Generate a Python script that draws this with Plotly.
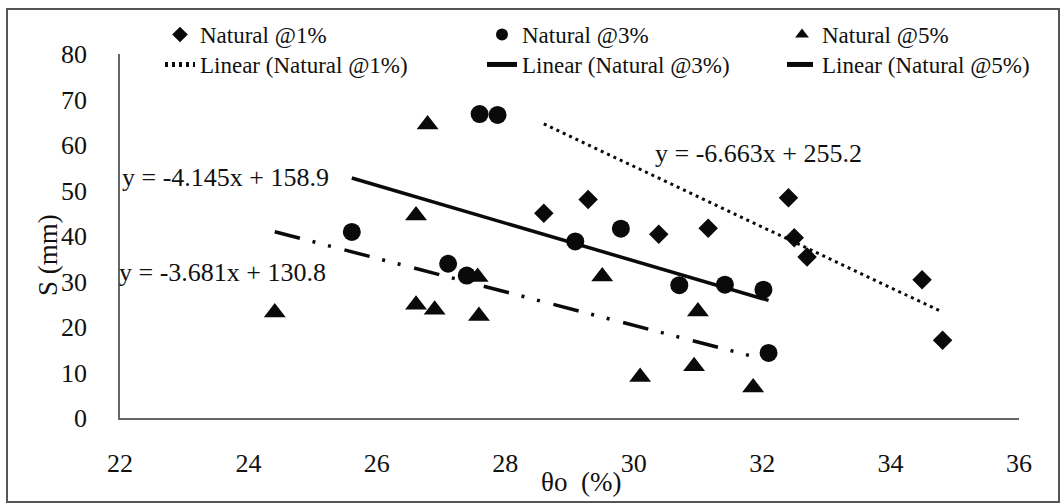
import plotly.graph_objects as go

# Settlement S (mm) against initial moisture content θo (%)
nat1_x = [28.60, 29.29, 30.39, 31.16, 32.41, 32.50, 32.70, 34.49, 34.81]
nat1_y = [45.0, 48.0, 40.4, 41.7, 48.4, 39.6, 35.4, 30.4, 17.1]

nat3_x = [25.61, 27.11, 27.40, 27.60, 27.88, 29.09, 29.80, 30.71, 31.42, 32.02, 32.10]
nat3_y = [40.9, 33.9, 31.3, 66.8, 66.6, 38.8, 41.6, 29.2, 29.3, 28.2, 14.3]

nat5_x = [24.41, 26.61, 26.79, 26.61, 26.90, 27.57, 27.59, 29.51, 30.10, 30.94, 31.00, 31.86]
nat5_y = [23.2, 44.5, 64.5, 24.9, 23.8, 31.0, 22.4, 31.1, 9.0, 11.4, 23.4, 6.7]

# Linear trendline coefficients (slope, intercept)
fit1 = (-6.663, 255.2)
fit3 = (-4.145, 158.9)
fit5 = (-3.681, 130.8)

series_names = ["Natural @1%", "Natural @3%", "Natural @5%"]
x_ticks = [22, 24, 26, 28, 30, 32, 34, 36]
y_ticks = [0, 10, 20, 30, 40, 50, 60, 70, 80]

W, H = 1063, 504
L, R, T, B = 120, 44, 54, 86
PW, PH = W - L - R, H - T - B
SERIF = "Liberation Serif"
INK = "#0a0a0a"


def px_to_paper(px, py):
    return (px - L) / PW, (H - B - py) / PH


def trend(xs, coef):
    xr = [min(xs), max(xs)]
    return xr, [coef[0] * v + coef[1] for v in xr]


fig = go.Figure()

# each legend entry gets its own legend box so the 3 x 2 grid can be placed freely
fig.add_trace(go.Scatter(x=nat1_x, y=nat1_y, mode="markers", name=series_names[0],
                         legend="legend",
                         marker=dict(symbol="diamond", size=15, color=INK)))
fig.add_trace(go.Scatter(x=nat3_x, y=nat3_y, mode="markers", name=series_names[1],
                         legend="legend2",
                         marker=dict(symbol="circle", size=18, color=INK)))
fig.add_trace(go.Scatter(x=nat5_x, y=nat5_y, mode="markers", name=series_names[2],
                         legend="legend3",
                         marker=dict(symbol="triangle-up", size=19, color=INK)))

tx, ty = trend(nat1_x, fit1)
fig.add_trace(go.Scatter(x=tx, y=ty, mode="lines", name="Linear (Natural @1%)",
                         legend="legend4",
                         line=dict(color=INK, width=3, dash="3px,4px")))
tx, ty = trend(nat3_x, fit3)
fig.add_trace(go.Scatter(x=tx, y=ty, mode="lines", name="Linear (Natural @3%)",
                         legend="legend5",
                         line=dict(color=INK, width=3.5)))
tx, ty = trend(nat5_x, fit5)
fig.add_trace(go.Scatter(x=tx, y=ty, mode="lines", name="Linear (Natural @5%)",
                         legend="legend6",
                         line=dict(color=INK, width=3.5,
                                   dash="26px,13px,3px,13px,3px,14px")))

annotations = []


def label(text, px, py, size=26, xanchor="left", angle=0):
    ax, ay = px_to_paper(px, py)
    annotations.append(dict(text=text, x=ax, y=ay, xref="paper", yref="paper",
                            xanchor=xanchor, yanchor="middle", showarrow=False,
                            textangle=angle,
                            font=dict(family=SERIF, size=size, color="#111")))


label("y = -4.145x + 158.9", 120, 177)
label("y = -3.681x + 130.8", 117, 272)
label("y = -6.663x + 255.2", 653, 153)
label("θo  (%)", 581, 482, size=27, xanchor="center")
label("S (mm)", 48, 255, size=27, xanchor="center", angle=-90)

# chart-area frame
fx0, fy0 = px_to_paper(7, 502)
fx1, fy1 = px_to_paper(1059, 9)
shapes = [dict(type="rect", xref="paper", yref="paper", x0=fx0, y0=fy0, x1=fx1, y1=fy1,
               line=dict(color="#555", width=2), fillcolor="rgba(0,0,0,0)", layer="below")]


def legend_at(px, py):
    lx, ly = px_to_paper(px, py)
    return dict(orientation="v", x=lx, y=ly, xanchor="left", yanchor="top",
                xref="paper", yref="paper",
                font=dict(family=SERIF, size=23, color="#111"),
                itemsizing="constant", bgcolor="rgba(0,0,0,0)")


fig.update_layout(
    width=W, height=H,
    margin=dict(l=L, r=R, t=T, b=B, pad=0),
    paper_bgcolor="white", plot_bgcolor="white",
    font=dict(family=SERIF, color="#111"),
    showlegend=True,
    legend=legend_at(160, 13),
    legend2=legend_at(482, 13),
    legend3=legend_at(782, 13),
    legend4=legend_at(160, 43),
    legend5=legend_at(482, 43),
    legend6=legend_at(782, 43),
    xaxis=dict(range=[22, 36], tickvals=x_ticks, ticks="", showgrid=False, zeroline=False,
               showline=True, linecolor="#666", linewidth=1.5,
               tickfont=dict(family=SERIF, size=26, color="#111"),
               ticklabelstandoff=21),
    yaxis=dict(range=[0, 80], tickvals=y_ticks, ticks="", showgrid=False, zeroline=False,
               showline=True, linecolor="#666", linewidth=1.5,
               tickfont=dict(family=SERIF, size=26, color="#111"),
               ticklabelstandoff=26),
    annotations=annotations,
    shapes=shapes,
)

fig.write_html("out.html")
